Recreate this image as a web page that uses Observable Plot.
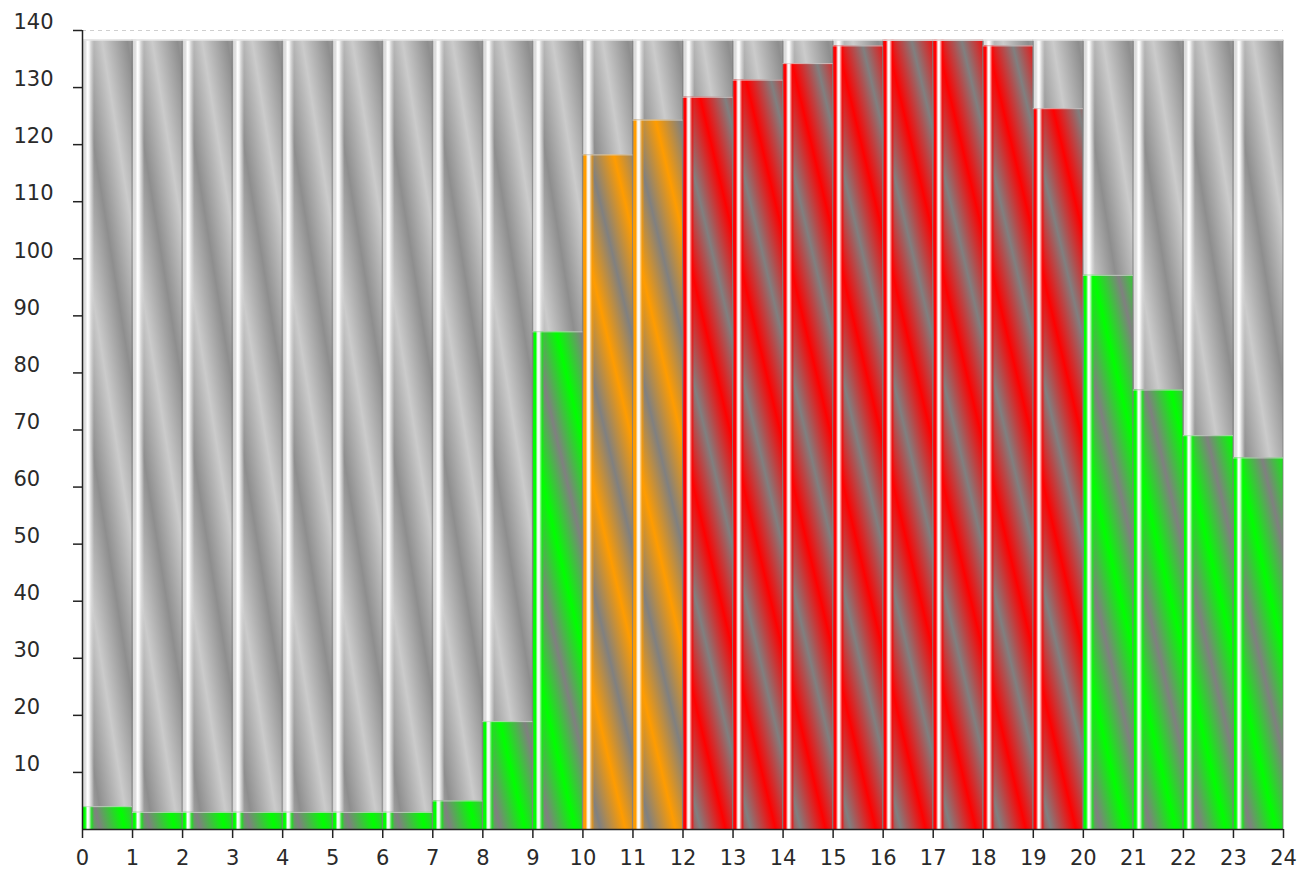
<!DOCTYPE html>
<html>
<head>
<meta charset="utf-8">
<script src="https://cdn.jsdelivr.net/npm/d3@7"></script>
<script src="https://cdn.jsdelivr.net/npm/@observablehq/plot@0.6"></script>
<style>
  html, body { margin: 0; padding: 0; background: #fff; }
</style>
</head>
<body>
<div id="chart"></div>
<script>
// ---- data ----
const hourStarts = [0,1,2,3,4,5,6,7,8,9,10,11,12,13,14,15,16,17,18,19,20,21,22,23];
const hourEnds   = [1,2,3,4,5,6,7,8,9,10,11,12,13,14,15,16,17,18,19,20,21,22,23,24];
const values     = [4,3,3,3,3,3,3,5,18.9,87.2,118.2,124.3,128.3,131.3,134.2,137.3,138.3,138.3,137.3,126.3,97.1,77,69,65.1];
const capacity   = [138.3,138.3,138.3,138.3,138.3,138.3,138.3,138.3,138.3,138.3,138.3,138.3,138.3,138.3,138.3,138.3,138.3,138.3,138.3,138.3,138.3,138.3,138.3,138.3];
const status     = ["low","low","low","low","low","low","low","low","low","low","mid","mid","high","high","high","high","high","high","high","high","low","low","low","low"];
const xTicks = [0,1,2,3,4,5,6,7,8,9,10,11,12,13,14,15,16,17,18,19,20,21,22,23,24];
const yTicks = [10,20,30,40,50,60,70,80,90,100,110,120,130,140];
const yMax = 140;

const rows = hourStarts.map((x1, i) => ({x1, x2: hourEnds[i], v: values[i], cap: capacity[i], s: status[i]}));

const palette = {low: "#00ff00", mid: "#ff9c00", high: "#ff0000"};
const levels = ["low", "mid", "high"];

const marks = [];
// background (capacity) bars
marks.push(Plot.rectY(rows, {x1: "x1", x2: "x2", y1: 0, y2: "cap", fill: "url(#bgGrad)"}));
marks.push(Plot.rectY(rows, {x1: "x1", x2: "x2", y1: "v", y2: "cap", insetLeft: 1, insetRight: 38, fill: "url(#hlGray)"}));
// value bars
for (const k of levels) {
  const sub = rows.filter(d => d.s === k);
  marks.push(Plot.rectY(sub, {x1: "x1", x2: "x2", y1: 0, y2: "v", fill: `url(#grad_${k})`}));
  marks.push(Plot.rectY(sub, {x1: "x1", x2: "x2", y1: 0, y2: "v", insetLeft: 1, insetRight: 38, fill: `url(#hl_${k})`}));
}
// right edge lines & tops
marks.push(Plot.ruleX(rows, {x: "x2", y1: 0, y2: "cap", stroke: "#7a7a7a", strokeOpacity: 0.8, dx: -0.5}));
marks.push(Plot.ruleY(rows, {y: "cap", x1: "x1", x2: "x2", stroke: "#e4e4e4", strokeWidth: 1.2}));
marks.push(Plot.ruleY(rows, {y: "v", x1: "x1", x2: "x2", stroke: "#d8d8d8", strokeOpacity: 0.8}));
// dashed top grid line
marks.push(Plot.ruleY([yMax], {stroke: "#cfcfcf", strokeDasharray: "4,4"}));
// axes
marks.push(Plot.axisY({ticks: yTicks, tickSize: 9, tickFormat: () => "", stroke: "#222", strokeWidth: 1.5}));
marks.push(Plot.axisY({ticks: yTicks, tickSize: 0, tickPadding: 69, textAnchor: "start", dy: -8, fontSize: 21, fill: "#2a2a2a"}));
marks.push(Plot.axisX({ticks: xTicks, tickSize: 9, tickPadding: 12, tickFormat: d => String(d), fontSize: 21, stroke: "#222", fill: "#2a2a2a", strokeWidth: 1.5}));
marks.push(Plot.ruleX([0], {stroke: "#222", strokeWidth: 1.5}));
marks.push(Plot.ruleY([0], {stroke: "#222", strokeWidth: 1.5}));

const chart = Plot.plot({
  width: 1303,
  height: 873,
  marginLeft: 82,
  marginRight: 20,
  marginTop: 30,
  marginBottom: 44,
  x: {domain: [0, 24], axis: null},
  y: {domain: [0, yMax], axis: null},
  style: {fontFamily: "'DejaVu Sans', Verdana, sans-serif", fontSize: "21px", background: "#fff", color: "#333"},
  marks
});

// ---- gradient definitions ----
const NS = "http://www.w3.org/2000/svg";
function el(name, attrs, parent) {
  const e = document.createElementNS(NS, name);
  for (const [k, v] of Object.entries(attrs)) e.setAttribute(k, v);
  if (parent) parent.appendChild(e);
  return e;
}
const xs = chart.scale("x"), ys = chart.scale("y");
const x0px = xs.apply(0), bw = xs.apply(1) - xs.apply(0);
const half = bw / 2;
const defs = el("defs", {});
chart.insertBefore(defs, chart.firstChild);

function stripe(id, y0, offset, slope, c0, c1) {
  const a = half / (1 + slope * slope);
  const gx = x0px + offset - half;
  const g = el("linearGradient", {id, gradientUnits: "userSpaceOnUse", spreadMethod: "reflect",
    x1: gx, y1: y0, x2: gx + a, y2: y0 - a * slope}, defs);
  el("stop", {offset: "0", "stop-color": c0}, g);
  el("stop", {offset: "1", "stop-color": c1}, g);
}
stripe("bgGrad", ys.apply(138.3), 20, 0.16, "#8e8e8e", "#cbcbcb");
for (const k of levels) stripe(`grad_${k}`, ys.apply(0), 18, 0.24, palette[k], "#808080");

function highlight(id, base) {
  const g = el("linearGradient", {id, x1: 0, y1: 0, x2: 1, y2: 0}, defs);
  el("stop", {offset: "0", "stop-color": base, "stop-opacity": 1}, g);
  el("stop", {offset: "0.2", "stop-color": base, "stop-opacity": 1}, g);
  el("stop", {offset: "0.4", "stop-color": "#ffffff", "stop-opacity": 1}, g);
  el("stop", {offset: "0.55", "stop-color": "#ffffff", "stop-opacity": 0.9}, g);
  el("stop", {offset: "0.8", "stop-color": base, "stop-opacity": 0.6}, g);
  el("stop", {offset: "1", "stop-color": base, "stop-opacity": 0}, g);
}
highlight("hlGray", "#dcdcdc");
for (const k of levels) highlight(`hl_${k}`, palette[k]);

document.getElementById("chart").appendChild(chart);
</script>
</body>
</html>
